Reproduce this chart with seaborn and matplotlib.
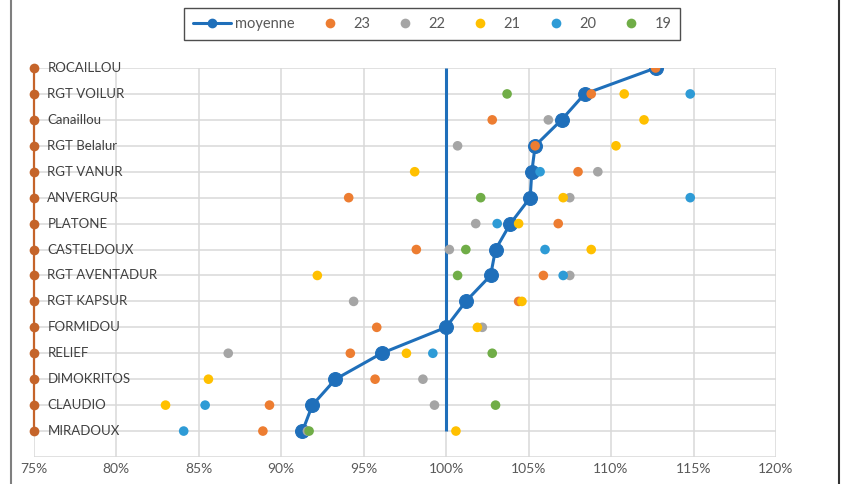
import numpy as np
import pandas as pd
import matplotlib
matplotlib.use("Agg")
import matplotlib.pyplot as plt
import seaborn as sns
from matplotlib.lines import Line2D
from matplotlib.ticker import FuncFormatter

# data (values in %)
names = ["ROCAILLOU", "RGT VOILUR", "Canaillou", "RGT Belalur", "RGT VANUR",
         "ANVERGUR", "PLATONE", "CASTELDOUX", "RGT AVENTADUR", "RGT KAPSUR",
         "FORMIDOU", "RELIEF", "DIMOKRITOS", "CLAUDIO", "MIRADOUX"]
nan = np.nan
moyenne = [112.7, 108.4, 107.0, 105.4, 105.2, 105.1, 103.9, 103.0, 102.7, 101.2,
           100.0, 96.1, 93.3, 91.9, 91.3]
y23 = [112.7, 108.8, 102.8, 105.4, 108.0, 94.1, 106.8, 98.2, 105.9, 104.4,
       95.8, 94.2, 95.7, 89.3, 88.9]
y22 = [nan, nan, 106.2, 100.7, 109.2, 107.5, 101.8, 100.2, 107.5, 94.4,
       102.2, 86.8, 98.6, 99.3, 91.6]
y21 = [nan, 110.8, 112.0, 110.3, 98.1, 107.1, 104.4, 108.8, 92.2, 104.6,
       101.9, 97.6, 85.6, 83.0, 100.6]
y20 = [nan, 114.8, nan, nan, 105.7, 114.8, 103.1, 106.0, 107.1, nan,
       nan, 99.2, nan, 85.4, 84.1]
y19 = [nan, 103.7, nan, nan, nan, 102.1, nan, 101.2, 100.7, nan,
       nan, 102.8, nan, 103.0, 91.7]
years = ["23", "22", "21", "20", "19"]
reference = 100
x_ticks = [75, 80, 85, 90, 95, 100, 105, 110, 115, 120]

blue = "#1f6fba"
year_colors = {"23": "#ed7d31", "22": "#a5a5a5", "21": "#ffc000",
               "20": "#2e9bd6", "19": "#70ad47"}
brown = "#c5642a"

ypos = np.arange(len(names), 0, -1)
df = pd.DataFrame({"name": names, "y": ypos, "moyenne": moyenne,
                   "23": y23, "22": y22, "21": y21, "20": y20, "19": y19})
long = df.melt(id_vars=["name", "y"], value_vars=years,
               var_name="annee", value_name="val").dropna()

sns.set_theme(style="white")
plt.rcParams["font.family"] = ["Lato", "DejaVu Sans"]

fig = plt.figure(figsize=(8.47, 4.84), dpi=100)
ax = fig.add_axes([0.0396, 0.0558, 0.8766, 0.8037])

ax.vlines(reference, ypos.min(), ypos.max(), color=blue, lw=2.2, zorder=2)

sns.lineplot(data=df, x="moyenne", y="y", sort=False, estimator=None,
             color=blue, lw=2.2, marker="o", markersize=10,
             markeredgecolor=blue, ax=ax, zorder=3)

sns.scatterplot(data=long, x="val", y="y", hue="annee", hue_order=years,
                palette=year_colors, s=48, linewidth=0, legend=False,
                ax=ax, zorder=4)

# category axis drawn as a series at the left edge
df["axe"] = x_ticks[0]
sns.lineplot(data=df, x="axe", y="y", sort=False, estimator=None,
             orient="y", color=brown, lw=1.6, marker="o", markersize=7,
             markeredgewidth=0, ax=ax, zorder=5, clip_on=False)
for n, yy in zip(names, ypos):
    ax.annotate(n, (x_ticks[0], yy), xytext=(10, 0), textcoords="offset points",
                va="center", ha="left", fontsize=9.5, color="#404040", zorder=6)

ax.set_xlim(x_ticks[0], x_ticks[-1])
ax.set_ylim(0, len(names))
ax.set_xticks(x_ticks)
ax.set_yticks(np.arange(0, len(names) + 1))
ax.set_yticklabels([])
ax.xaxis.set_major_formatter(FuncFormatter(lambda v, p: f"{v:.0f}%"))
ax.tick_params(axis="x", length=0, pad=4, labelsize=10, labelcolor="#595959")
ax.tick_params(axis="y", length=0)
ax.grid(True, color="#d9d9d9", lw=1.1)
ax.set_axisbelow(True)
for s in ax.spines.values():
    s.set_visible(False)
ax.set_xlabel("")
ax.set_ylabel("")

handles = [Line2D([], [], color=blue, lw=2.2, marker="o", markersize=6,
                  label="moyenne")]
for yr in years:
    handles.append(Line2D([], [], ls="", marker="o", markersize=7,
                          markeredgewidth=0, color=year_colors[yr], label=yr))
leg = fig.legend(handles=handles, loc="center", ncol=6,
                 bbox_to_anchor=(432 / 847, 1 - 24 / 484), frameon=True,
                 fancybox=False, edgecolor="#222222", fontsize=10.5,
                 handlelength=2.6, columnspacing=1.1, handletextpad=0.3,
                 borderpad=0.6)
leg.get_frame().set_linewidth(1.0)
for t in leg.get_texts():
    t.set_color("#595959")

# outer frame of the original picture
fig.add_artist(Line2D([11 / 847, 11 / 847], [0, 1], color="#7f7f7f", lw=1.5))
fig.add_artist(Line2D([839 / 847, 839 / 847], [0, 1], color="#333333", lw=1.5))

fig.savefig("out.png", dpi=100)
